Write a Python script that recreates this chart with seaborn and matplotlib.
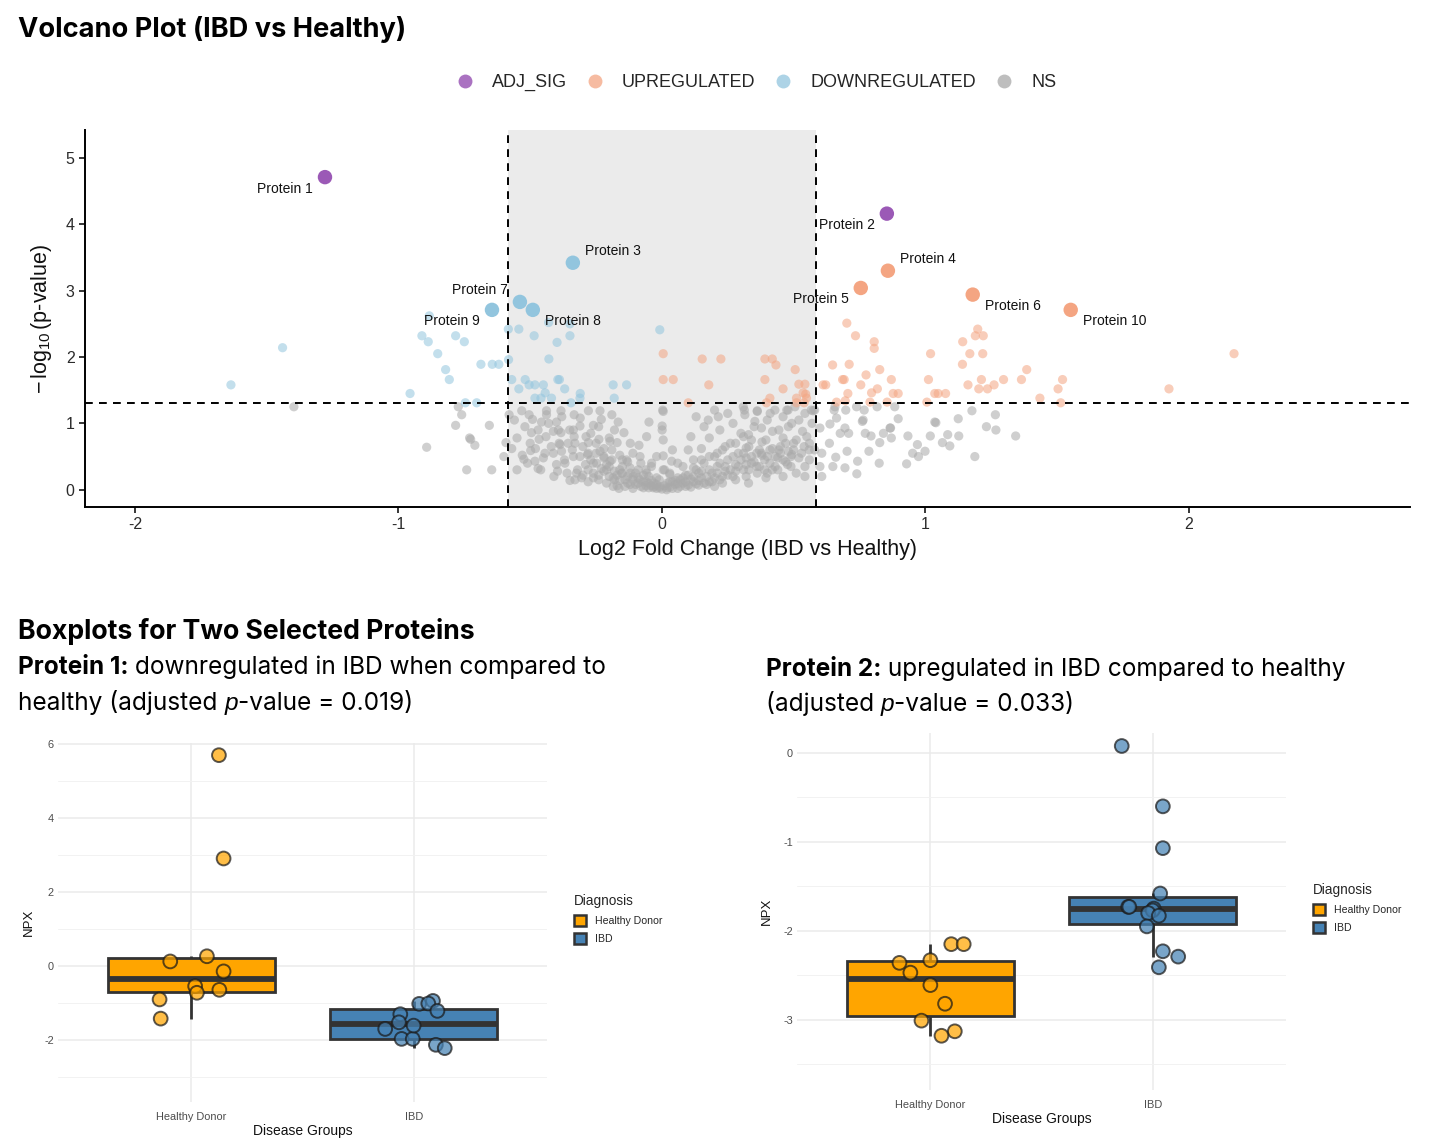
import numpy as np
import pandas as pd
import matplotlib
matplotlib.use("Agg")
import matplotlib.pyplot as plt
import seaborn as sns
from matplotlib.transforms import IdentityTransform
from matplotlib.patches import Patch
from matplotlib.lines import Line2D
from matplotlib.ticker import MultipleLocator

# ---------------------------------------------------------------- data
status_order = ["ADJ_SIG", "UPREGULATED", "DOWNREGULATED", "NS"]
status_colors = ["#9B59B6", "#F4A582", "#92C5DE", "#A9A9A9"]

fc_cutoff = 0.585          # log2(1.5)
p_cutoff = 1.30103         # -log10(0.05)

protein_names = ["Protein 1", "Protein 2", "Protein 3", "Protein 4", "Protein 5",
                 "Protein 6", "Protein 7", "Protein 8", "Protein 9", "Protein 10"]
protein_log2fc = [-1.279, 0.854, -0.338, 0.858, 0.755, 1.18, -0.539, -0.49, -0.645, 1.552]
protein_neglog10p = [4.71, 4.16, 3.42, 3.30, 3.04, 2.94, 2.83, 2.71, 2.71, 2.71]
protein_status = ["ADJ_SIG", "ADJ_SIG", "DOWNREGULATED", "UPREGULATED", "UPREGULATED",
                  "UPREGULATED", "DOWNREGULATED", "DOWNREGULATED", "DOWNREGULATED", "UPREGULATED"]
label_side = ["left", "left", "right", "right", "left", "right", "left", "right", "left", "right"]
label_vert = ["below", "below", "above", "above", "below", "below", "above", "below", "below", "below"]

down_points = [(-1.636, 1.58), (-1.44, 2.14), (-0.956, 1.45), (-0.883, 2.62), (-0.911, 2.32),
               (-0.887, 2.23), (-0.851, 2.05), (-0.821, 1.81), (-0.807, 1.66), (-0.783, 2.32),
               (-0.75, 2.23), (-0.687, 1.89), (-0.644, 1.89), (-0.619, 1.89), (-0.582, 1.96),
               (-0.583, 2.42), (-0.543, 2.42), (-0.485, 2.32), (-0.43, 2.52), (-0.349, 2.50),
               (-0.398, 2.22), (-0.349, 2.32), (-0.429, 1.97), (-0.746, 1.31), (-0.703, 1.31),
               (-0.57, 1.66), (-0.543, 1.52), (-0.519, 1.66), (-0.504, 1.58), (-0.482, 1.58),
               (-0.45, 1.58), (-0.443, 1.46), (-0.482, 1.38), (-0.459, 1.38), (-0.419, 1.38),
               (-0.395, 1.66), (-0.389, 1.66), (-0.369, 1.52), (-0.31, 1.45), (-0.311, 1.38),
               (-0.345, 1.31), (-0.185, 1.58), (-0.134, 1.58), (-0.181, 1.38), (-0.008, 2.41)]

up_points = [(0.005, 2.05), (0.005, 1.66), (0.043, 1.66), (0.1, 1.31), (0.153, 1.97),
             (0.224, 1.97), (0.178, 1.58), (0.391, 1.97), (0.419, 1.97), (0.433, 1.88),
             (0.506, 1.81), (0.391, 1.66), (0.46, 1.52), (0.52, 1.59), (0.543, 1.59),
             (0.536, 1.46), (0.546, 1.44), (0.41, 1.38), (0.397, 1.31), (0.511, 1.38),
             (0.549, 1.38), (0.511, 1.31), (0.54, 1.31), (0.648, 1.88), (0.612, 1.58),
             (0.622, 1.58), (0.702, 2.51), (0.735, 2.32), (0.806, 2.23), (0.806, 2.13),
             (0.711, 1.89), (0.827, 1.81), (0.775, 1.73), (0.686, 1.66), (0.692, 1.66),
             (0.755, 1.58), (0.871, 1.66), (0.818, 1.52), (0.796, 1.46), (0.878, 1.45),
             (0.897, 1.45), (0.706, 1.45), (0.663, 1.32), (0.696, 1.34), (0.79, 1.32),
             (0.855, 1.32), (1.006, 1.32), (1.02, 2.05), (1.012, 1.66), (1.036, 1.45),
             (1.049, 1.45), (1.077, 1.45), (1.142, 2.23), (1.19, 2.32), (1.199, 2.42),
             (1.22, 2.32), (1.169, 2.05), (1.218, 2.05), (1.141, 1.89), (1.162, 1.58),
             (1.213, 1.66), (1.203, 1.52), (1.236, 1.52), (1.261, 1.58), (1.297, 1.66),
             (1.365, 1.66), (1.385, 1.81), (1.435, 1.38), (1.504, 1.52), (1.521, 1.66),
             (1.514, 1.31), (1.925, 1.52), (2.172, 2.05)]

ns_points = [
    # left of the fold-change window
    (-1.397, 1.25), (-0.893, 0.64), (-0.773, 1.25), (-0.76, 1.13), (-0.783, 0.97),
    (-0.655, 0.97), (-0.726, 0.76), (-0.71, 0.67), (-0.741, 0.30), (-0.646, 0.30),
    (-0.6, 0.50), (-0.592, 0.71), (-0.58, 1.13), (-0.73, 0.78),
    # inside window, negative side
    (-0.532, 1.19), (-0.504, 1.13), (-0.491, 1.06), (-0.438, 1.19), (-0.438, 1.13),
    (-0.383, 1.19), (-0.333, 1.13), (-0.279, 1.19), (-0.235, 1.19), (-0.23, 1.06),
    (-0.19, 1.13), (-0.166, 1.02), (-0.457, 1.02), (-0.4, 1.02), (-0.393, 0.90),
    (-0.412, 0.88), (-0.495, 0.86), (-0.466, 0.76), (-0.383, 0.86), (-0.336, 0.90),
    (-0.311, 0.96), (-0.26, 0.97), (-0.333, 0.80), (-0.288, 0.80), (-0.279, 0.71),
    (-0.239, 0.76), (-0.197, 0.73), (-0.17, 0.71), (-0.144, 0.86), (-0.058, 0.80),
    (-0.049, 1.02), (0.005, 1.18), (0.001, 0.96), (0.001, 0.90), (0.005, 0.75),
    (0.005, 0.51), (-0.087, 0.67), (-0.498, 0.59), (-0.524, 0.46), (-0.482, 0.43),
    (-0.47, 0.32), (-0.444, 0.55), (-0.412, 0.55), (-0.381, 0.58), (-0.387, 0.68),
    (-0.356, 0.70), (-0.368, 0.40), (-0.396, 0.28), (-0.349, 0.14), (-0.324, 0.25),
    (-0.305, 0.18), (-0.336, 0.50), (-0.311, 0.50), (-0.282, 0.53), (-0.26, 0.18),
    (-0.248, 0.40), (-0.235, 0.58), (-0.22, 0.50), (-0.197, 0.43), (-0.21, 0.30),
    (-0.185, 0.18), (-0.185, 0.05), (-0.163, 0.02), (-0.153, 0.25), (-0.134, 0.45),
    (-0.121, 0.33), (-0.109, 0.20), (-0.083, 0.15), (-0.058, 0.25), (-0.052, 0.10),
    (-0.033, 0.03), (-0.008, 0.05), (0.018, 0.00), (-0.02, 0.18), (0.005, 0.30),
    (0.037, 0.43), (0.03, 0.23), (-0.083, 0.50), (-0.039, 0.40),
    (-0.02, 0.02), (-0.04, 0.06), (-0.06, 0.12), (-0.07, 0.03), (-0.09, 0.18),
    (-0.1, 0.08), (-0.12, 0.25), (-0.13, 0.1), (-0.15, 0.35), (-0.16, 0.14),
    (-0.18, 0.28), (-0.19, 0.45), (-0.2, 0.2), (-0.22, 0.62), (-0.23, 0.32),
    (-0.25, 0.55), (-0.26, 0.25), (-0.27, 0.85), (-0.29, 0.38), (-0.3, 0.65),
    (-0.32, 0.3), (-0.34, 0.6), (-0.35, 0.9), (-0.37, 0.45), (-0.39, 0.7),
    (-0.4, 0.38), (-0.42, 0.65), (-0.43, 1.0), (-0.45, 0.48), (-0.47, 0.9),
    (-0.48, 0.62), (-0.5, 0.7), (-0.52, 0.95), (-0.53, 0.52), (-0.55, 0.78),
    (-0.56, 1.05), (-0.57, 0.62), (-0.05, 0.2), (-0.08, 0.4), (-0.11, 0.55),
    (-0.14, 0.05), (-0.03, 0.1), (-0.01, 0.15), (-0.06, 0.3), (-0.17, 0.06),
    (-0.21, 0.1), (-0.24, 0.15), (-0.28, 0.12), (-0.11, 0.02), (-0.09, 0.3),
    (-0.13, 0.42), (-0.16, 0.52), (-0.2, 0.78), (-0.24, 0.95), (-0.31, 1.08),
    (-0.38, 1.1), (-0.44, 0.8), (-0.36, 0.25), (-0.41, 0.2), (-0.46, 0.3),
    (-0.51, 0.4), (-0.55, 0.3), (-0.33, 0.15), (-0.27, 0.45), (-0.21, 0.38),
    (-0.15, 0.25), (-0.07, 0.22), (-0.04, 0.35), (-0.02, 0.5), (-0.12, 0.7),
    (-0.18, 0.9),
    (-0.3, 0.22), (-0.28, 0.3), (-0.26, 0.4), (-0.24, 0.22), (-0.22, 0.28),
    (-0.2, 0.35), (-0.18, 0.15), (-0.17, 0.22), (-0.16, 0.3), (-0.14, 0.15),
    (-0.13, 0.2), (-0.12, 0.08), (-0.11, 0.15), (-0.1, 0.25), (-0.09, 0.1),
    (-0.08, 0.05), (-0.07, 0.12), (-0.06, 0.06), (-0.05, 0.03), (-0.04, 0.14),
    (-0.03, 0.05), (-0.02, 0.08), (-0.01, 0.03), (0.0, 0.01), (-0.15, 0.45),
    (-0.22, 0.48), (-0.28, 0.55), (-0.33, 0.7), (-0.25, 0.7), (-0.19, 0.6),
    # inside window, positive side
    (0.313, 1.20), (0.362, 1.18), (0.411, 1.15), (0.474, 1.20), (0.543, 1.15),
    (0.567, 1.20), (0.353, 1.03), (0.378, 0.93), (0.444, 0.90), (0.493, 1.00),
    (0.534, 0.88), (0.51, 0.75), (0.46, 0.78), (0.395, 0.75), (0.329, 0.83),
    (0.32, 0.63), (0.378, 0.55), (0.444, 0.60), (0.493, 0.53), (0.559, 0.60),
    (0.543, 0.35), (0.477, 0.38), (0.419, 0.30), (0.362, 0.25), (0.329, 0.10),
    (0.395, 0.18), (0.46, 0.20), (0.543, 0.20), (0.003, 1.2), (0.309, 1.25),
    (0.362, 1.19), (0.429, 1.2), (0.479, 1.2), (0.505, 1.25), (0.574, 1.19),
    (0.315, 1.13), (0.214, 1.10), (0.176, 1.05),
    (0.02, 0.03), (0.04, 0.12), (0.06, 0.02), (0.08, 0.1), (0.11, 0.04),
    (0.14, 0.07), (0.18, 0.12), (0.05, 0.08), (0.07, 0.15), (0.09, 0.05),
    (0.1, 0.22), (0.12, 0.12), (0.13, 0.3), (0.15, 0.18), (0.16, 0.40),
    (0.17, 0.08), (0.19, 0.25), (0.2, 0.50), (0.21, 0.35), (0.22, 0.15),
    (0.23, 0.6), (0.24, 0.28), (0.25, 0.45), (0.26, 0.7), (0.27, 0.2),
    (0.28, 0.38), (0.29, 0.55), (0.3, 0.85), (0.31, 0.3), (0.32, 0.48),
    (0.33, 0.65), (0.34, 0.4), (0.35, 0.95), (0.36, 0.55), (0.37, 0.35),
    (0.38, 0.72), (0.39, 0.45), (0.41, 0.6), (0.42, 0.88), (0.43, 0.5),
    (0.45, 0.65), (0.47, 0.42), (0.48, 0.95), (0.5, 0.7), (0.52, 1.05),
    (0.53, 0.55), (0.55, 0.8), (0.56, 0.45), (0.57, 1.0), (0.12, 0.45),
    (0.1, 0.6), (0.08, 0.35), (0.15, 0.62), (0.18, 0.78), (0.22, 0.9),
    (0.27, 1.0), (0.2, 0.05), (0.03, 0.25), (0.06, 0.4), (0.14, 0.25),
    (0.23, 0.1), (0.28, 0.15), (0.32, 0.2), (0.4, 0.25), (0.44, 0.3),
    (0.49, 0.35), (0.51, 0.25), (0.58, 0.6), (0.46, 1.1), (0.4, 1.05),
    (0.34, 0.75), (0.25, 1.15), (0.16, 0.95), (0.11, 0.8), (0.04, 0.6),
    (0.01, 0.3), (0.13, 1.1), (0.2, 1.2),
    (0.01, 0.06), (0.02, 0.1), (0.03, 0.04), (0.04, 0.02), (0.05, 0.14),
    (0.06, 0.09), (0.07, 0.05), (0.08, 0.18), (0.09, 0.12), (0.1, 0.07),
    (0.11, 0.16), (0.12, 0.2), (0.13, 0.09), (0.14, 0.14), (0.15, 0.28),
    (0.16, 0.1), (0.17, 0.2), (0.18, 0.3), (0.19, 0.12), (0.2, 0.18),
    (0.21, 0.25), (0.22, 0.4), (0.23, 0.2), (0.24, 0.35), (0.25, 0.22),
    (0.26, 0.3), (0.27, 0.5), (0.28, 0.28), (0.29, 0.35), (0.3, 0.45),
    (0.31, 0.55), (0.32, 0.38), (0.33, 0.3), (0.34, 0.5), (0.35, 0.42),
    (0.36, 0.35), (0.37, 0.6), (0.38, 0.52), (0.39, 0.3), (0.4, 0.5),
    (0.41, 0.4), (0.42, 0.62), (0.43, 0.35), (0.44, 0.48), (0.45, 0.55),
    (0.46, 0.45), (0.47, 0.7), (0.48, 0.58), (0.49, 0.5), (0.5, 0.6),
    (0.52, 0.48), (0.54, 0.65), (0.56, 0.7), (0.15, 0.45), (0.18, 0.5),
    (0.21, 0.55), (0.24, 0.65), (0.28, 0.7), (0.31, 0.8), (0.12, 0.33),
    (0.09, 0.22), (0.06, 0.18), (0.03, 0.12),
    # right of the fold-change window
    (0.58, 1.2), (0.657, 1.25), (0.739, 1.25), (0.768, 1.2), (0.817, 1.25),
    (0.884, 1.25), (0.897, 1.07), (0.764, 1.05), (0.663, 1.08), (1.036, 1.02),
    (1.125, 1.07), (1.177, 1.19), (1.266, 1.13), (1.232, 0.95), (0.868, 0.93),
    (0.638, 0.99), (0.695, 0.93), (1.268, 0.90), (1.343, 0.81), (1.04, 1.01),
    (1.019, 0.81), (1.085, 0.83), (1.127, 0.81), (1.065, 0.71), (1.093, 0.66),
    (1.188, 0.50), (0.97, 0.68), (0.952, 0.55), (0.999, 0.58), (0.974, 0.50),
    (0.929, 0.39), (0.934, 0.81), (0.866, 0.93), (0.871, 0.78), (0.841, 0.85),
    (0.827, 0.71), (0.825, 0.40), (0.786, 0.58), (0.794, 0.81), (0.772, 0.85),
    (0.74, 0.24), (0.743, 0.43), (0.695, 0.33), (0.703, 0.58), (0.761, 1.03),
    (0.649, 0.35), (0.66, 0.49), (0.607, 0.20), (0.6, 0.35), (0.607, 0.55),
    (0.6, 0.93), (0.636, 0.70), (0.677, 0.85), (0.709, 0.85), (0.698, 1.2),
    (0.654, 1.2),
]

# boxplot data (NPX)
groups = ["Healthy Donor", "IBD"]
group_colors = ["#FFA500", "#4682B4"]

p1_healthy_npx = [5.71, 2.91, 0.12, 0.26, -0.15, -0.55, -0.73, -0.65, -0.91, -1.43]
p1_healthy_jitter = [0.124, 0.145, -0.095, 0.07, 0.145, 0.017, 0.025, 0.126, -0.143, -0.138]
p1_ibd_npx = [-1.03, -0.95, -1.02, -1.22, -1.31, -1.53, -1.71, -1.98, -1.98, -1.62, -2.14, -2.23]
p1_ibd_jitter = [0.025, 0.087, 0.066, 0.107, -0.06, -0.066, -0.128, -0.054, -0.004, 0.0, 0.1, 0.14]

p2_healthy_npx = [-2.15, -2.15, -2.36, -2.33, -2.47, -2.61, -2.82, -3.01, -3.13, -3.18]
p2_healthy_jitter = [0.094, 0.15, -0.139, 0.0, -0.09, 0.0, 0.066, -0.04, 0.11, 0.05]
p2_ibd_npx = [0.079, -0.60, -1.07, -1.58, -1.73, -1.73, -1.75, -1.77, -1.80, -1.83, -1.95, -2.23, -2.29, -2.41]
p2_ibd_jitter = [-0.139, 0.046, 0.046, 0.034, -0.11, -0.105, 0.005, 0.0, -0.02, 0.028, -0.026, 0.046, 0.115, 0.028]

# ---------------------------------------------------------------- style
sns.set_theme(style="white")
plt.rcParams["font.family"] = ["Liberation Sans", "DejaVu Sans"]
plt.rcParams["axes.unicode_minus"] = False
plt.rcParams["mathtext.fontset"] = "custom"
plt.rcParams["mathtext.rm"] = "Liberation Sans"
plt.rcParams["mathtext.it"] = "Liberation Sans:italic"

W, H = 1440, 1147
fig = plt.figure(figsize=(W / 100, H / 100), dpi=100)
fig.patch.set_facecolor("white")


def ax_px(l, t, r, b):
    return fig.add_axes([l / W, 1 - b / H, (r - l) / W, (b - t) / H])


palette = dict(zip(status_order, status_colors))

# ---------------------------------------------------------------- volcano
ax = ax_px(85, 130, 1410, 507)
ax.axvspan(-fc_cutoff, fc_cutoff, color="#EBEBEB", lw=0, zorder=0)

rows = ([(x, y, "NS") for x, y in ns_points] +
        [(x, y, "UPREGULATED") for x, y in up_points] +
        [(x, y, "DOWNREGULATED") for x, y in down_points])
small_df = pd.DataFrame(rows, columns=["log2fc", "nlp", "status"])
big_df = pd.DataFrame({"log2fc": protein_log2fc, "nlp": protein_neglog10p,
                       "status": protein_status, "name": protein_names})

sns.scatterplot(data=small_df, x="log2fc", y="nlp", hue="status", palette=palette,
                s=44, alpha=0.55, edgecolor="none", legend=False, ax=ax, zorder=2)
sns.scatterplot(data=big_df, x="log2fc", y="nlp", hue="status", palette=palette,
                s=108, alpha=1.0, edgecolor="none", legend=False, ax=ax, zorder=3)

for lx in (-fc_cutoff, fc_cutoff):
    ax.axvline(lx, color="black", lw=1.4, ls=(0, (4, 3.2)), zorder=4)
ax.axhline(p_cutoff, color="black", lw=1.4, ls=(0, (4, 3.2)), zorder=4)

for _, r in big_df.iterrows():
    i = protein_names.index(r["name"])
    dx = 8.5 if label_side[i] == "right" else -8.5
    dy = 8.3 if label_vert[i] == "above" else -8.3
    ax.annotate(r["name"], (r["log2fc"], r["nlp"]), xytext=(dx, dy),
                textcoords="offset points", ha="left" if dx > 0 else "right",
                va="center", fontsize=10, color="#111111", zorder=5)

ax.set_xlim(-2.19, 2.84)
ax.set_ylim(-0.26, 5.42)
ax.set_xticks([-2, -1, 0, 1, 2])
ax.set_yticks([0, 1, 2, 3, 4, 5])
for s in ["top", "right"]:
    ax.spines[s].set_visible(False)
for s in ["left", "bottom"]:
    ax.spines[s].set_color("black")
    ax.spines[s].set_linewidth(1.4)
ax.tick_params(axis="both", direction="out", length=4.5, width=1.1, color="black",
               labelsize=11.5, labelcolor="#2b2b2b", pad=3, left=True, bottom=True)
ax.set_xlabel("Log2 Fold Change (IBD vs Healthy)", fontsize=15.5, color="#111111", labelpad=5)
ax.set_ylabel(r"$-\,\log_{10}$(p-value)", fontsize=15.5, color="#111111", labelpad=8)

handles = [Line2D([0], [0], marker="o", ls="none", markersize=10, markeredgewidth=0,
                  markerfacecolor=c, alpha=0.85 if k < 1 else 0.75, label=lab)
           for k, (lab, c) in enumerate(zip(status_order, status_colors))]
leg = ax.legend(handles=handles, loc="center", bbox_to_anchor=(0.503, 1.125), ncol=4,
                frameon=False, fontsize=13, handletextpad=0.5, columnspacing=0.55)

# ---------------------------------------------------------------- boxplots


def draw_box(bax, healthy, hjit, ibd, ijit, ylim, major, minor, leg_anchor):
    df = pd.DataFrame({
        "group": [groups[0]] * len(healthy) + [groups[1]] * len(ibd),
        "npx": healthy + ibd,
        "jit": hjit + ijit,
    })
    df["xpos"] = df["group"].map({g: k for k, g in enumerate(groups)}) + df["jit"]
    pal = dict(zip(groups, group_colors))
    sns.boxplot(data=df, x="group", y="npx", hue="group", order=groups, hue_order=groups,
                palette=pal, width=0.75, linecolor="#333333", linewidth=2.0,
                showfliers=False, saturation=1, legend=False, ax=bax,
                medianprops={"linewidth": 4.2, "color": "#333333"},
                whiskerprops={"linewidth": 2.0}, capprops={"linewidth": 0})
    sns.scatterplot(data=df, x="xpos", y="npx", hue="group", palette=pal, hue_order=groups,
                    s=98, alpha=0.72, edgecolor="#1a1a1a", linewidth=1.4,
                    legend=False, ax=bax, zorder=4)
    bax.set_xlim(-0.6, 1.6)
    bax.set_ylim(*ylim)
    bax.set_xticks([0, 1])
    bax.set_xticklabels(groups)
    bax.yaxis.set_major_locator(MultipleLocator(major))
    bax.yaxis.set_minor_locator(MultipleLocator(minor))
    bax.grid(True, which="major", color="#EBEBEB", lw=1.1, zorder=0)
    bax.grid(True, which="minor", axis="y", color="#F2F2F2", lw=0.7, zorder=0)
    bax.set_axisbelow(True)
    for s in bax.spines.values():
        s.set_visible(False)
    bax.tick_params(axis="both", which="both", length=0, labelsize=7.9,
                    labelcolor="#4D4D4D", pad=3)
    bax.tick_params(axis="x", pad=7)
    bax.set_xlabel("Disease Groups", fontsize=10, color="#111111", labelpad=2)
    bax.set_ylabel("NPX", fontsize=9.5, color="#111111", labelpad=7)
    hs = [Patch(facecolor=c, edgecolor="#333333", linewidth=1.8, label=g)
          for g, c in zip(groups, group_colors)]
    lg = bax.legend(handles=hs, title="Diagnosis", loc="center left",
                    bbox_to_anchor=leg_anchor, frameon=False, fontsize=7.6,
                    title_fontsize=9.8, handlelength=1.2, handleheight=1.2,
                    labelspacing=0.7, handletextpad=0.8)
    lg._legend_box.align = "left"


bax1 = ax_px(58, 743, 547, 1102)
draw_box(bax1, p1_healthy_npx, p1_healthy_jitter, p1_ibd_npx, p1_ibd_jitter,
         (-3.69, 6.04), 2, 1, (1.035, 0.51))

bax2 = ax_px(797, 733, 1286, 1090)
draw_box(bax2, p2_healthy_npx, p2_healthy_jitter, p2_ibd_npx, p2_ibd_jitter,
         (-3.79, 0.225), 1, 0.5, (1.035, 0.51))

# ---------------------------------------------------------------- headings
renderer = fig.canvas.get_renderer()
HEAD = ["Inter", "Lato", "DejaVu Sans"]


def rich_line(x_px, base_px, segments, size):
    x = x_px
    for txt, weight, style in segments:
        fam = ["Liberation Sans"] if style == "italic" else HEAD
        t = fig.text(x, H - base_px, txt, transform=IdentityTransform(), fontsize=size,
                     fontweight=weight, fontstyle=style, family=fam, va="baseline",
                     ha="left", color="black")
        x = t.get_window_extent(renderer=renderer).x1


rich_line(18, 37, [("Volcano Plot (IBD vs Healthy)", "bold", "normal")], 19.6)
rich_line(18, 639, [("Boxplots for Two Selected Proteins", "bold", "normal")], 19.2)
rich_line(18, 674, [("Protein 1:", "bold", "normal"),
                    (" downregulated in IBD when compared to", "normal", "normal")], 17.6)
rich_line(18, 710, [("healthy (adjusted ", "normal", "normal"), ("p", "normal", "italic"),
                    ("-value = 0.019)", "normal", "normal")], 17.6)
rich_line(766, 676, [("Protein 2:", "bold", "normal"),
                     (" upregulated in IBD compared to healthy", "normal", "normal")], 17.6)
rich_line(766, 711, [("(adjusted ", "normal", "normal"), ("p", "normal", "italic"),
                     ("-value = 0.033)", "normal", "normal")], 17.6)

fig.savefig("out.png", dpi=100, facecolor="white")
